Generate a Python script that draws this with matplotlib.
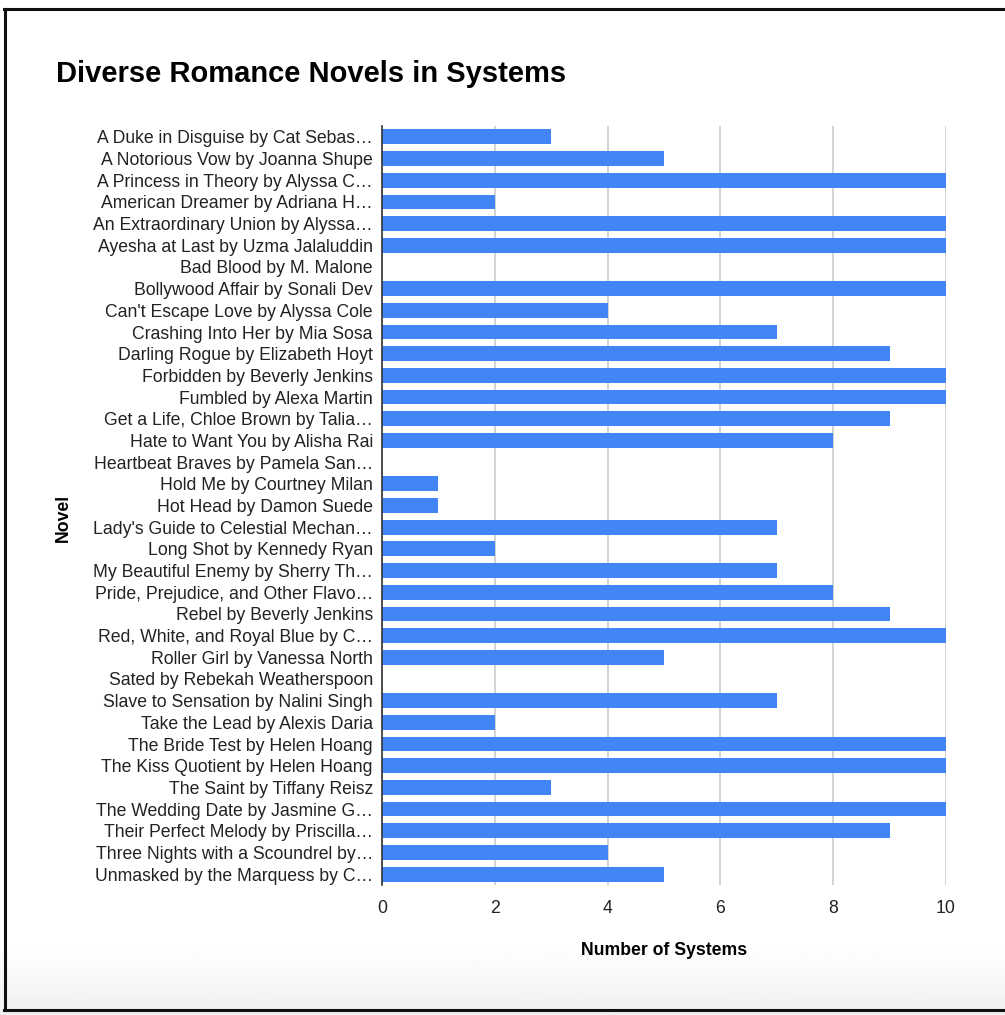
import numpy as np
import matplotlib
matplotlib.use("Agg")
import matplotlib.pyplot as plt
from matplotlib.lines import Line2D

plt.rcParams['font.family'] = ['Liberation Sans', 'DejaVu Sans']

novels = [
    "A Duke in Disguise by Cat Sebas…",
    "A Notorious Vow by Joanna Shupe",
    "A Princess in Theory by Alyssa C…",
    "American Dreamer by Adriana H…",
    "An Extraordinary Union by Alyssa…",
    "Ayesha at Last by Uzma Jalaluddin",
    "Bad Blood by M. Malone",
    "Bollywood Affair by Sonali Dev",
    "Can't Escape Love by Alyssa Cole",
    "Crashing Into Her by Mia Sosa",
    "Darling Rogue by Elizabeth Hoyt",
    "Forbidden by Beverly Jenkins",
    "Fumbled by Alexa Martin",
    "Get a Life, Chloe Brown by Talia…",
    "Hate to Want You by Alisha Rai",
    "Heartbeat Braves by Pamela San…",
    "Hold Me by Courtney Milan",
    "Hot Head by Damon Suede",
    "Lady's Guide to Celestial Mechan…",
    "Long Shot by Kennedy Ryan",
    "My Beautiful Enemy by Sherry Th…",
    "Pride, Prejudice, and Other Flavo…",
    "Rebel by Beverly Jenkins",
    "Red, White, and Royal Blue by C…",
    "Roller Girl by Vanessa North",
    "Sated by Rebekah Weatherspoon",
    "Slave to Sensation by Nalini Singh",
    "Take the Lead by Alexis Daria",
    "The Bride Test by Helen Hoang",
    "The Kiss Quotient by Helen Hoang",
    "The Saint by Tiffany Reisz",
    "The Wedding Date by Jasmine G…",
    "Their Perfect Melody by Priscilla…",
    "Three Nights with a Scoundrel by…",
    "Unmasked by the Marquess by C…",
]
systems = [3, 5, 10, 2, 10, 10, 0, 10, 4, 7, 9, 10, 10, 9, 8, 0, 1, 1, 7, 2,
           7, 8, 9, 10, 5, 0, 7, 2, 10, 10, 3, 10, 9, 4, 5]
x_ticks = [0, 2, 4, 6, 8, 10]

W, H = 1005, 1015
fig = plt.figure(figsize=(W / 100, H / 100), dpi=100)

# light grey fade at the bottom of the screenshot
grad = fig.add_axes([0, 0, 1, 70 / H])
grad.imshow(np.linspace(0.94, 1.0, 64).reshape(-1, 1), cmap='gray', vmin=0, vmax=1,
            aspect='auto', origin='lower', extent=[0, 1, 0, 1])
grad.set_axis_off()

ax = fig.add_axes([382 / W, 1 - 885 / H, (946 - 382) / W, 759 / H])
ax.set_facecolor('none')
y = np.arange(len(novels))
ax.barh(y, systems, height=0.68, color='#4285F4', zorder=3)
ax.set_ylim(len(novels) - 0.5, -0.5)
ax.set_xlim(0, 10)
ax.set_yticks(y)
ax.set_yticklabels(novels, fontsize=12.7, color='#222222')
ax.set_xticks(x_ticks)
ax.set_xticklabels([str(t) for t in x_ticks], fontsize=12.7, color='#222222')
ax.tick_params(axis='y', length=0, pad=6.5)
ax.tick_params(axis='x', length=0, pad=11)
ax.xaxis.grid(True, color='#cccccc', linewidth=1.2, zorder=0)
for s in ['top', 'right', 'bottom']:
    ax.spines[s].set_visible(False)
ax.spines['left'].set_color('#333333')
ax.spines['left'].set_linewidth(1.2)
ax.spines['left'].set_zorder(4)

ax.set_xlabel('Number of Systems', fontsize=12.7, fontweight='bold', labelpad=18)
fig.text(63 / W, 1 - 518 / H, 'Novel', rotation=90, fontsize=12.7, fontweight='bold',
         ha='center', va='center')
fig.text(56 / W, 1 - 74 / H, 'Diverse Romance Novels in Systems', fontsize=21,
         fontweight='bold', ha='left', va='center')

# screenshot frame
fig.add_artist(Line2D([4 / W, 1], [1 - 9 / H] * 2, color='#111111', linewidth=2.2))
fig.add_artist(Line2D([5 / W] * 2, [1 - 9 / H, 1 - 1010 / H], color='#111111', linewidth=2.2))
fig.add_artist(Line2D([4 / W, 1], [1 - 1010 / H] * 2, color='#111111', linewidth=2.2))

fig.savefig('out.png', dpi=100, facecolor='white')
